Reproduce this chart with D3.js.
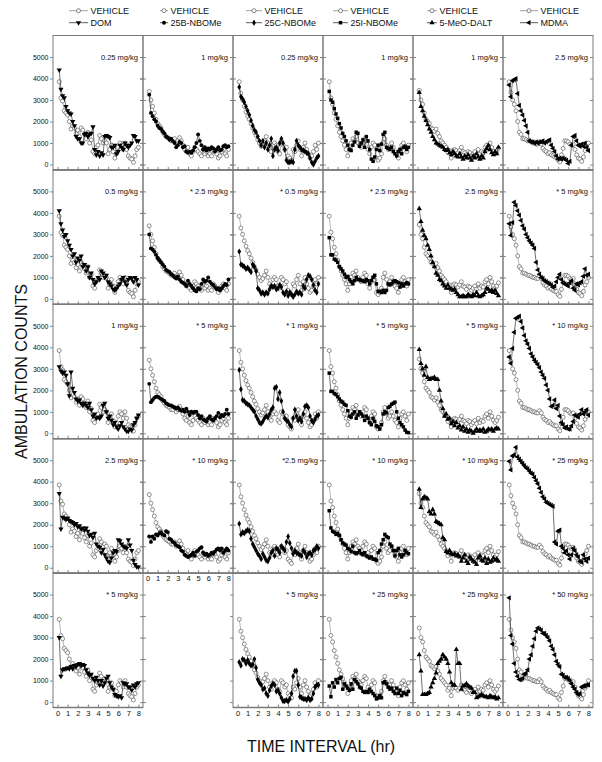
<!DOCTYPE html>
<html>
<head>
<meta charset="utf-8">
<script src="https://cdn.jsdelivr.net/npm/d3@7"></script>
<style>
  body { margin: 0; background: #fff; }
  svg { display: block; }
  text { font-family: "Liberation Sans", Arial, sans-serif; fill: #111; }
</style>
</head>
<body>
<svg id="chart" width="602" height="762"></svg>
<script>
// ---- data (ambulation counts per 10-min bin, 48 bins over 8 h) ----
const hourTicks = [0, 1, 2, 3, 4, 5, 6, 7, 8];
const countTicks = [0, 1000, 2000, 3000, 4000, 5000];
const binTimes = d3.range(1, 49).map((k) => k / 6);

const drugNames = ['DOM', '25B-NBOMe', '25C-NBOMe', '25I-NBOMe', '5-MeO-DALT', 'MDMA'];
const drugShapes = ['tdown', 'circle', 'diamond', 'square', 'tup', 'tleft'];

const domDoses = ['0.25 mg/kg', '0.5 mg/kg', '1 mg/kg', '2.5 mg/kg', '* 5 mg/kg'];
const b25Doses = ['1 mg/kg', '* 2.5 mg/kg', '* 5 mg/kg', '* 10 mg/kg', null];
const c25Doses = ['0.25 mg/kg', '* 0.5 mg/kg', '* 1 mg/kg', '*2.5 mg/kg', '* 5 mg/kg'];
const i25Doses = ['1 mg/kg', '* 2.5 mg/kg', '* 5 mg/kg', '* 10 mg/kg', '* 25 mg/kg'];
const daltDoses = ['1 mg/kg', '2.5 mg/kg', '* 5 mg/kg', '* 10 mg/kg', '* 25 mg/kg'];
const mdmaDoses = ['2.5 mg/kg', '* 5 mg/kg', '* 10 mg/kg', '* 25 mg/kg', '* 50 mg/kg'];

// DOM column
const vehDOM = [
  3850, 3100, 2950, 2500, 2400, 2300,
  2000, 1650, 1800, 1700, 1450, 1600,
  1300, 1700, 1600, 1400, 1200, 1500,
  1000, 1150, 600, 500, 800, 900,
  1350, 1200, 1000, 1100, 1000, 500,
  700, 900, 600, 300, 500, 800,
  1000, 900, 700, 1000, 700, 400,
  300, 250, 100, 400, 700, 800];
const dom025 = [
  4400, 3500, 3200, 3100, 2700, 2500,
  2400, 2350, 2000, 1800, 1300, 1200,
  1200, 1000, 1000, 1400, 1450, 1300,
  1400, 1450, 1750, 700, 450, 600,
  400, 550, 450, 1300, 1350, 1300,
  1250, 800, 800, 900, 500, 600,
  900, 800, 700, 1000, 900, 800,
  900, 1000, 1350, 1300, 1100, 1100];
const dom05 = [
  4100, 3500, 3200, 2900, 3000, 2700,
  2500, 2300, 2000, 2100, 1700, 1900,
  1800, 2000, 1500, 1600, 1300, 1500,
  1000, 1200, 900, 700, 800, 1000,
  900, 1300, 1200, 1000, 1100, 800,
  700, 600, 450, 400, 500, 600,
  700, 900, 1000, 800, 650, 900,
  1000, 950, 800, 1000, 900, 650];
const dom1 = [
  3100, 2900, 2800, 2850, 2700, 2300,
  1750, 2850, 2100, 1900, 1600, 1500,
  1550, 1400, 1300, 1400, 1300, 1200,
  1400, 1100, 800, 900, 700, 750,
  700, 800, 1300, 1400, 1000, 700,
  800, 600, 400, 500, 300, 200,
  350, 500, 300, 200, 100, 100,
  200, 150, 400, 500, 700, 850];
const dom25 = [
  3450, 1800, 2350, 2300, 2250, 2300,
  2200, 2150, 2100, 2000, 2050, 1900,
  1950, 1800, 1850, 1750, 1850, 1700,
  1500, 1550, 1400, 1600, 1100, 1000,
  950, 700, 850, 600, 450, 300,
  250, 450, 700, 800, 750, 1300,
  1250, 1100, 1000, 950, 900, 1300,
  1050, 800, 350, 150, 50, 30];
const dom5 = [
  3000, 1200, 1500, 1550, 1550, 1600,
  1550, 1650, 1550, 1700, 1650, 1750,
  1800, 1700, 1750, 1700, 1500, 1350,
  1250, 1300, 1100, 1000, 1150, 1000,
  800, 1000, 750, 900, 1100, 1200,
  900, 700, 600, 350, 300, 250,
  300, 200, 900, 850, 850, 700,
  700, 550, 800, 700, 850, 900];

// 25B-NBOMe column
const vehB = [
  3400, 3000, 2700, 2400, 2100, 1900,
  1800, 1700, 1500, 1400, 1300, 1250,
  1200, 1100, 1100, 1200, 1000, 1100,
  1250, 1100, 900, 700, 600, 800,
  500, 400, 600, 800, 700, 600,
  500, 400, 700, 500, 600, 400,
  500, 400, 700, 600, 500, 300,
  400, 600, 700, 500, 400, 700];
const b1 = [
  3250, 2400, 2250, 2100, 2000, 1800,
  1700, 1650, 1550, 1450, 1300, 1250,
  1150, 1200, 1100, 1000, 800, 900,
  1050, 1000, 800, 850, 600, 550,
  600, 550, 650, 800, 1000, 1400,
  1100, 900, 700, 800, 650, 750,
  700, 800, 750, 600, 700, 800,
  650, 700, 850, 900, 800, 850];
const b25 = [
  3000, 2350, 2300, 2200, 2050, 1900,
  1800, 1700, 1600, 1500, 1350, 1300,
  1250, 1150, 1100, 1000, 950, 1050,
  900, 800, 750, 700, 600, 850,
  700, 600, 500, 400, 350, 500,
  450, 700, 900, 800, 850, 1000,
  800, 700, 650, 550, 450, 500,
  400, 500, 600, 700, 650, 900];
const b5 = [
  2300, 1450, 1550, 1650, 1700, 1700,
  1650, 1600, 1550, 1500, 1400, 1350,
  1300, 1300, 1250, 1200, 1150, 1200,
  1100, 1050, 1100, 1000, 1150, 1000,
  850, 1000, 950, 1000, 1000, 850,
  700, 800, 650, 600, 550, 700,
  800, 650, 600, 700, 800, 950,
  750, 850, 800, 900, 1100, 900];
const b10 = [
  1450, 1200, 1450, 1350, 1550, 1500,
  1600, 1650, 1550, 1500, 1700, 1650,
  1350, 1300, 1200, 1150, 1050, 1000,
  950, 800, 750, 600, 550, 500,
  550, 600, 700, 550, 750, 800,
  900, 950, 700, 600, 650, 550,
  600, 700, 650, 750, 850, 900,
  800, 900, 700, 800, 900, 800];

// 25C-NBOMe column
const vehC = [
  3850, 3300, 3000, 2700, 2450, 2250,
  2100, 1900, 1700, 1500, 1350, 1150,
  1000, 850, 950, 1100, 1300, 1000,
  700, 600, 900, 1000, 900, 600,
  500, 1000, 900, 700, 800, 400,
  300, 200, 700, 600, 900, 1100,
  700, 400, 800, 1000, 700, 500,
  300, 400, 600, 900, 700, 1000];
const c025 = [
  3600, 3150, 3050, 2900, 2700, 2500,
  2300, 2050, 1800, 1600, 1500, 1300,
  1100, 900, 1100, 800, 1000, 700,
  900, 1200, 400, 700, 800, 650,
  1000, 1200, 1000, 700, 200, 100,
  100, 150, 100, 700, 1100, 900,
  800, 700, 650, 600, 550, 500,
  300, 100, 0, 150, 300, 400];
const c05 = [
  2200, 1600, 1550, 1500, 1400, 1450,
  1350, 1250, 1600, 1500, 1300, 500,
  400, 250, 300, 200, 300, 250,
  450, 600, 550, 600, 450, 500,
  650, 550, 300, 200, 350, 150,
  300, 200, 100, 200, 350, 250,
  300, 200, 600, 500, 900, 1100,
  1050, 900, 650, 400, 300, 700];
const c1 = [
  2950, 2050, 1550, 1500, 1400, 1350,
  1300, 1200, 1100, 1000, 800, 650,
  500, 450, 550, 700, 800, 750,
  900, 1100, 1200, 2100, 2150, 1600,
  1900, 1500, 1000, 700, 600, 550,
  400, 300, 700, 1100, 800, 600,
  700, 550, 900, 1250, 1300, 1200,
  800, 600, 500, 650, 800, 850];
const c25 = [
  2050, 1550, 1650, 1600, 1700, 1750,
  1700, 1350, 1100, 950, 800, 650,
  550, 400, 650, 500, 350, 300,
  450, 700, 800, 550, 900, 850,
  700, 1000, 900, 800, 1200, 1450,
  1150, 900, 650, 800, 700, 650,
  600, 550, 800, 700, 500, 650,
  700, 600, 800, 850, 1000, 900];
const c5 = [
  1850, 1700, 2000, 1950, 1800, 1950,
  1800, 1700, 1750, 2000, 1600, 1050,
  900, 800, 600, 650, 400, 300,
  550, 750, 850, 800, 500, 550,
  400, 200, 50, 50, 100, 30,
  150, 400, 1200, 1450, 1450, 800,
  250, 200, 150, 150, 100, 200,
  100, 150, 400, 700, 800, 800];

// 25I-NBOMe column
const vehI = [
  3850, 3100, 2800, 2400, 2100, 1800,
  1500, 1300, 1100, 900, 700, 400,
  700, 1000, 1200, 1100, 1300, 1000,
  900, 800, 1000, 1200, 1100, 700,
  500, 800, 1000, 900, 300, 200,
  300, 500, 1000, 1200, 900, 700,
  800, 1000, 800, 600, 500, 300,
  700, 900, 1000, 800, 600, 900];
const i1 = [
  3400, 3000, 2900, 2600, 2350, 2150,
  1900, 1700, 1450, 1300, 1100, 900,
  700, 650, 900, 1050, 1500, 1450,
  850, 1000, 1150, 800, 1300, 1100,
  700, 250, 150, 350, 700, 900,
  650, 950, 1400, 1500, 800, 750,
  700, 800, 600, 500, 400, 600,
  700, 500, 800, 850, 700, 800];
const i25 = [
  2850, 2050, 2050, 1850, 1800, 1700,
  1500, 1400, 1300, 1150, 1000, 1050,
  900, 800, 700, 850, 1000, 900,
  900, 850, 850, 800, 900, 850,
  700, 850, 1000, 1100, 700, 350,
  350, 300, 400, 300, 400, 700,
  650, 700, 800, 850, 800, 750,
  550, 700, 600, 700, 750, 700];
const i5 = [
  2800, 1950, 1950, 1850, 1800, 1700,
  1600, 1500, 1450, 1350, 1300, 1050,
  800, 750, 900, 1000, 700, 850,
  1000, 900, 800, 600, 800, 700,
  500, 400, 700, 550, 350, 300,
  200, 400, 900, 1000, 950, 1200,
  1250, 1350, 1400, 1450, 1000, 700,
  500, 400, 300, 150, 50, 30];
const i10 = [
  2650, 1850, 1700, 1650, 1550, 1600,
  1500, 1300, 1150, 1100, 1050, 900,
  850, 750, 1000, 700, 650, 700,
  800, 650, 600, 700, 550, 500,
  450, 500, 400, 400, 350, 700,
  800, 1100, 1300, 1550, 1450, 1400,
  1100, 1000, 800, 550, 800, 900,
  600, 500, 600, 800, 700, 650];
const i25mg = [
  750, 250, 900, 700, 1050, 900,
  1100, 1150, 600, 850, 750, 650,
  550, 850, 600, 1050, 950, 850,
  700, 650, 500, 450, 500, 450,
  600, 500, 400, 300, 150, 200,
  300, 200, 900, 950, 850, 700,
  600, 650, 500, 400, 650, 400,
  550, 300, 450, 400, 350, 500];

// 5-MeO-DALT column
const vehD = [
  3450, 3000, 2800, 2400, 2100, 2000,
  1900, 1700, 1650, 1550, 1650, 1450,
  1300, 1100, 1000, 900, 800, 550,
  650, 300, 650, 700, 650, 550,
  650, 800, 600, 550, 450, 600,
  550, 400, 500, 600, 450, 700,
  500, 600, 550, 800, 900, 700,
  1000, 800, 600, 500, 600, 750];
const d1 = [
  3350, 2700, 2500, 2250, 2050, 1850,
  1650, 1500, 1300, 1150, 1000, 950,
  900, 850, 800, 700, 650, 700,
  550, 450, 600, 500, 400, 350,
  500, 350, 250, 400, 300, 450,
  300, 200, 400, 300, 500, 350,
  250, 400, 300, 600, 750, 900,
  700, 550, 450, 600, 500, 800];
const d25 = [
  4200, 3600, 3200, 2950, 2800, 2500,
  2300, 2000, 1700, 1500, 1200, 1100,
  900, 850, 700, 600, 500, 650,
  500, 450, 400, 450, 300, 200,
  100, 100, 150, 100, 100, 200,
  150, 100, 200, 150, 300, 150,
  100, 150, 200, 300, 500, 450,
  350, 400, 300, 400, 250, 150];
const d5 = [
  3900, 3250, 3000, 2700, 3100, 2600,
  2500, 2550, 2550, 2600, 2500, 2500,
  2000, 1500, 1150, 800, 900, 650,
  700, 450, 550, 350, 500, 250,
  350, 150, 300, 100, 200, 50,
  150, 100, 0, 100, 200, 100,
  150, 100, 200, 50, 100, 200,
  150, 200, 100, 200, 250, 200];
const d10 = [
  3650, 2800, 3200, 3300, 3250, 3200,
  2600, 2500, 2700, 2500, 2150, 2100,
  2050, 2000, 1400, 1300, 750, 700,
  800, 650, 600, 650, 550, 600,
  500, 300, 450, 600, 300, 200,
  500, 400, 300, 250, 150, 450,
  550, 350, 300, 450, 200, 400,
  250, 300, 450, 350, 400, 300];
const d25mg = [
  2200, 1450, 350, 350, 350, 400,
  450, 700, 900, 1100, 1350, 1800,
  1900, 2000, 2200, 2100, 2000, 1800,
  1400, 900, 800, 780, 2450, 1800,
  1800, 600, 750, 770, 850, 750,
  700, 650, 450, 450, 200, 250,
  300, 350, 300, 250, 250, 200,
  300, 250, 200, 250, 150, 200];

// MDMA column
const vehM = [
  3850, 3350, 3000, 2800, 2500, 2000,
  1500, 1400, 1200, 1200, 1150, 1100,
  1100, 1050, 1000, 1000, 950, 950,
  1050, 950, 750, 650, 600, 500,
  550, 450, 400, 350, 350, 200,
  120, 450, 750, 1100, 1100, 1050,
  950, 900, 950, 700, 450, 300,
  250, 150, 350, 650, 800, 1000];
const m25 = [
  3700, 3150, 3900, 3950, 4000, 3300,
  2750, 2500, 2300, 2050, 1800, 1500,
  1100, 1050, 1050, 1000, 1050, 1000,
  1050, 1050, 1100, 1000, 1050, 1100,
  1150, 900, 750, 600, 400, 250,
  300, 250, 300, 250, 200, 50,
  150, 900, 1300, 1350, 1100, 900,
  850, 950, 850, 1000, 800, 650];
const m5 = [
  3500, 2950, 3550, 4500, 4350, 4100,
  3900, 3650, 3400, 3250, 3000, 2850,
  2700, 2600, 2500, 2350, 1700, 1350,
  1150, 1000, 950, 850, 800, 750,
  700, 650, 550, 600, 800, 1000,
  1150, 900, 750, 700, 650, 600,
  750, 850, 500, 400, 700, 650,
  750, 800, 1050, 1400, 1100, 1150];
const m10 = [
  3550, 3250, 3950, 4700, 5350, 5400,
  5450, 5200, 4900, 4550, 4300, 4150,
  3950, 3700, 3550, 3400, 3300, 3200,
  3050, 2850, 2700, 2550, 2250, 2000,
  1600, 1250, 1300, 1550, 1150, 1300,
  800, 500, 400, 250, 300, 200,
  200, 350, 550, 850, 800, 750,
  900, 1100, 900, 1000, 1100, 850];
const m25mg = [
  4950, 4550, 5200, 5250, 5600, 5150,
  5050, 4950, 4850, 4750, 4650, 4600,
  4500, 4400, 4350, 4200, 4050, 3900,
  3700, 3500, 3300, 3200, 3050, 3000,
  2950, 2900, 2850, 1200, 1100, 1700,
  1750, 1000, 900, 700, 800, 600,
  400, 600, 900, 800, 600, 500,
  300, 250, 600, 400, 300, 450];
const m50 = [
  4850, 3100, 2700, 1800, 1400, 1200,
  1050, 1050, 1100, 1300, 1350, 1500,
  2000, 2200, 2600, 2950, 3300, 3450,
  3400, 3350, 3200, 3200, 3100, 3000,
  2850, 2600, 2450, 2200, 1900, 1750,
  1650, 1300, 1250, 1150, 1150, 1100,
  1000, 850, 700, 600, 450, 350,
  400, 700, 750, 750, 800, 800];

// table built from the arrays above
const columns = [
  { vehicle: vehDOM, doses: domDoses, series: [dom025, dom05, dom1, dom25, dom5] },
  { vehicle: vehB, doses: b25Doses, series: [b1, b25, b5, b10, null] },
  { vehicle: vehC, doses: c25Doses, series: [c025, c05, c1, c25, c5] },
  { vehicle: vehI, doses: i25Doses, series: [i1, i25, i5, i10, i25mg] },
  { vehicle: vehD, doses: daltDoses, series: [d1, d25, d5, d10, d25mg] },
  { vehicle: vehM, doses: mdmaDoses, series: [m25, m5, m10, m25mg, m50] },
];

// ---- layout ----
const left0 = 53;
const top0 = 35.5;
const colW = 90;
const rowH = 134.4;
const FRAME = '#7a7a7a';
const legendLine = [[69, 88], [160, 168], [246, 262], [333, 348], [427, 437], [520, 538]];

const svg = d3.select('#chart');
const x = d3.scaleLinear().domain([-0.45, 8.45]).range([0, colW]);
const y = d3.scaleLinear().domain([-250, 6000]).range([rowH, 0]);
const line = d3.line().x((d, i) => x(binTimes[i])).y((d) => y(d));

function markerPath(shape) {
  if (shape === 'circle') return d3.symbol().type(d3.symbolCircle).size(12)();
  if (shape === 'diamond') return d3.symbol().type(d3.symbolDiamond).size(12)();
  if (shape === 'square') return d3.symbol().type(d3.symbolSquare).size(12)();
  return d3.symbol().type(d3.symbolTriangle).size(12)();
}
function markerRotate(shape) {
  if (shape === 'tdown') return 180;
  if (shape === 'tleft') return -90;
  return 0;
}

function styleAxis(sel) {
  sel.select('.domain').remove();
  sel.selectAll('.tick line').attr('stroke', FRAME).attr('stroke-width', 0.9);
  sel.selectAll('.tick text').attr('font-size', 7).attr('fill', '#111')
    .attr('font-family', '"Liberation Sans", Arial, sans-serif');
}

columns.forEach((col, c) => {
  const shape = drugShapes[c];
  col.series.forEach((vals, r) => {
    if (!vals) return;
    const g = svg.append('g')
      .attr('transform', `translate(${left0 + c * colW},${top0 + r * rowH})`);

    // frame
    g.append('rect').attr('width', colW).attr('height', rowH)
      .attr('fill', 'none').attr('stroke', FRAME).attr('stroke-width', 1);
    g.append('line').attr('x1', 0).attr('x2', colW).attr('y1', rowH).attr('y2', rowH)
      .attr('stroke', FRAME).attr('stroke-width', 1.6);

    // left axis (labels only on first column)
    g.append('g')
      .call(d3.axisLeft(y).tickValues(countTicks).tickSize(3).tickPadding(1.5)
        .tickFormat(c === 0 ? d3.format('d') : ''))
      .call(styleAxis);

    // right side ticks
    g.append('g').attr('transform', `translate(${colW},0)`)
      .call(d3.axisLeft(y).tickValues(countTicks).tickSize(3).tickFormat(''))
      .call(styleAxis);
    if (c < 5) {
      g.append('g').attr('transform', `translate(${colW},0)`)
        .call(d3.axisRight(y).tickValues(countTicks).tickSize(3).tickFormat(''))
        .call(styleAxis);
    }

    // bottom ticks pointing up
    g.append('g').attr('transform', `translate(0,${rowH})`)
      .call(d3.axisTop(x).tickValues(hourTicks).tickSize(3).tickFormat(''))
      .call(styleAxis);

    // hour labels under the lowest panel of each column
    const lowest = r === 4 || (r === 3 && !col.series[4]);
    if (lowest) {
      const ax = g.append('g').attr('transform', `translate(0,${rowH})`)
        .call(d3.axisBottom(x).tickValues(hourTicks).tickSize(0).tickPadding(3));
      styleAxis(ax);
      ax.selectAll('.tick text').attr('font-size', 7.5);
    }

    // dose label
    g.append('text')
      .attr('x', colW - 5).attr('y', y(5000) + 2.6)
      .attr('text-anchor', 'end').attr('font-size', 7.5)
      .text(col.doses[r]);

    // vehicle series
    g.append('path').datum(col.vehicle)
      .attr('d', line).attr('fill', 'none')
      .attr('stroke', '#9a9a9a').attr('stroke-width', 0.7);
    g.append('g').selectAll('circle').data(col.vehicle).join('circle')
      .attr('cx', (d, i) => x(binTimes[i])).attr('cy', (d) => y(d))
      .attr('r', 2).attr('fill', '#fff')
      .attr('stroke', '#3a3a3a').attr('stroke-width', 0.55);

    // drug series
    g.append('path').datum(vals)
      .attr('d', line).attr('fill', 'none')
      .attr('stroke', '#111').attr('stroke-width', 0.6);
    g.append('g').selectAll('path').data(vals).join('path')
      .attr('d', markerPath(shape))
      .attr('transform', (d, i) =>
        `translate(${x(binTimes[i])},${y(d)}) rotate(${markerRotate(shape)})`)
      .attr('fill', '#000');
  });
});

// ---- legend ----
columns.forEach((col, c) => {
  const [x1, x2] = legendLine[c];
  const mid = (x1 + x2) / 2;
  const rows = [
    { label: 'VEHICLE', cy: 10.7, vehicle: true },
    { label: drugNames[c], cy: 22.7, vehicle: false },
  ];
  rows.forEach((row) => {
    svg.append('line').attr('x1', x1).attr('x2', x2).attr('y1', row.cy).attr('y2', row.cy)
      .attr('stroke', row.vehicle ? '#8a8a8a' : '#333').attr('stroke-width', 0.8);
    if (row.vehicle) {
      svg.append('circle').attr('cx', mid).attr('cy', row.cy).attr('r', 2)
        .attr('fill', '#fff').attr('stroke', '#3a3a3a').attr('stroke-width', 0.6);
    } else {
      svg.append('path').attr('d', markerPath(drugShapes[c]))
        .attr('transform', `translate(${mid},${row.cy}) rotate(${markerRotate(drugShapes[c])})`)
        .attr('fill', '#000');
    }
    svg.append('text').attr('x', x2 + 2.5).attr('y', row.cy + 3.2)
      .attr('font-size', 9).text(row.label);
  });
});

// ---- axis titles ----
svg.append('text')
  .attr('transform', `translate(27,${top0 + 2.5 * rowH}) rotate(-90)`)
  .attr('text-anchor', 'middle').attr('font-size', 16)
  .text('AMBULATION COUNTS');

svg.append('text')
  .attr('x', left0 + 3 * colW - 2).attr('y', 752)
  .attr('text-anchor', 'middle').attr('font-size', 16)
  .text('TIME INTERVAL (hr)');
</script>
</body>
</html>
